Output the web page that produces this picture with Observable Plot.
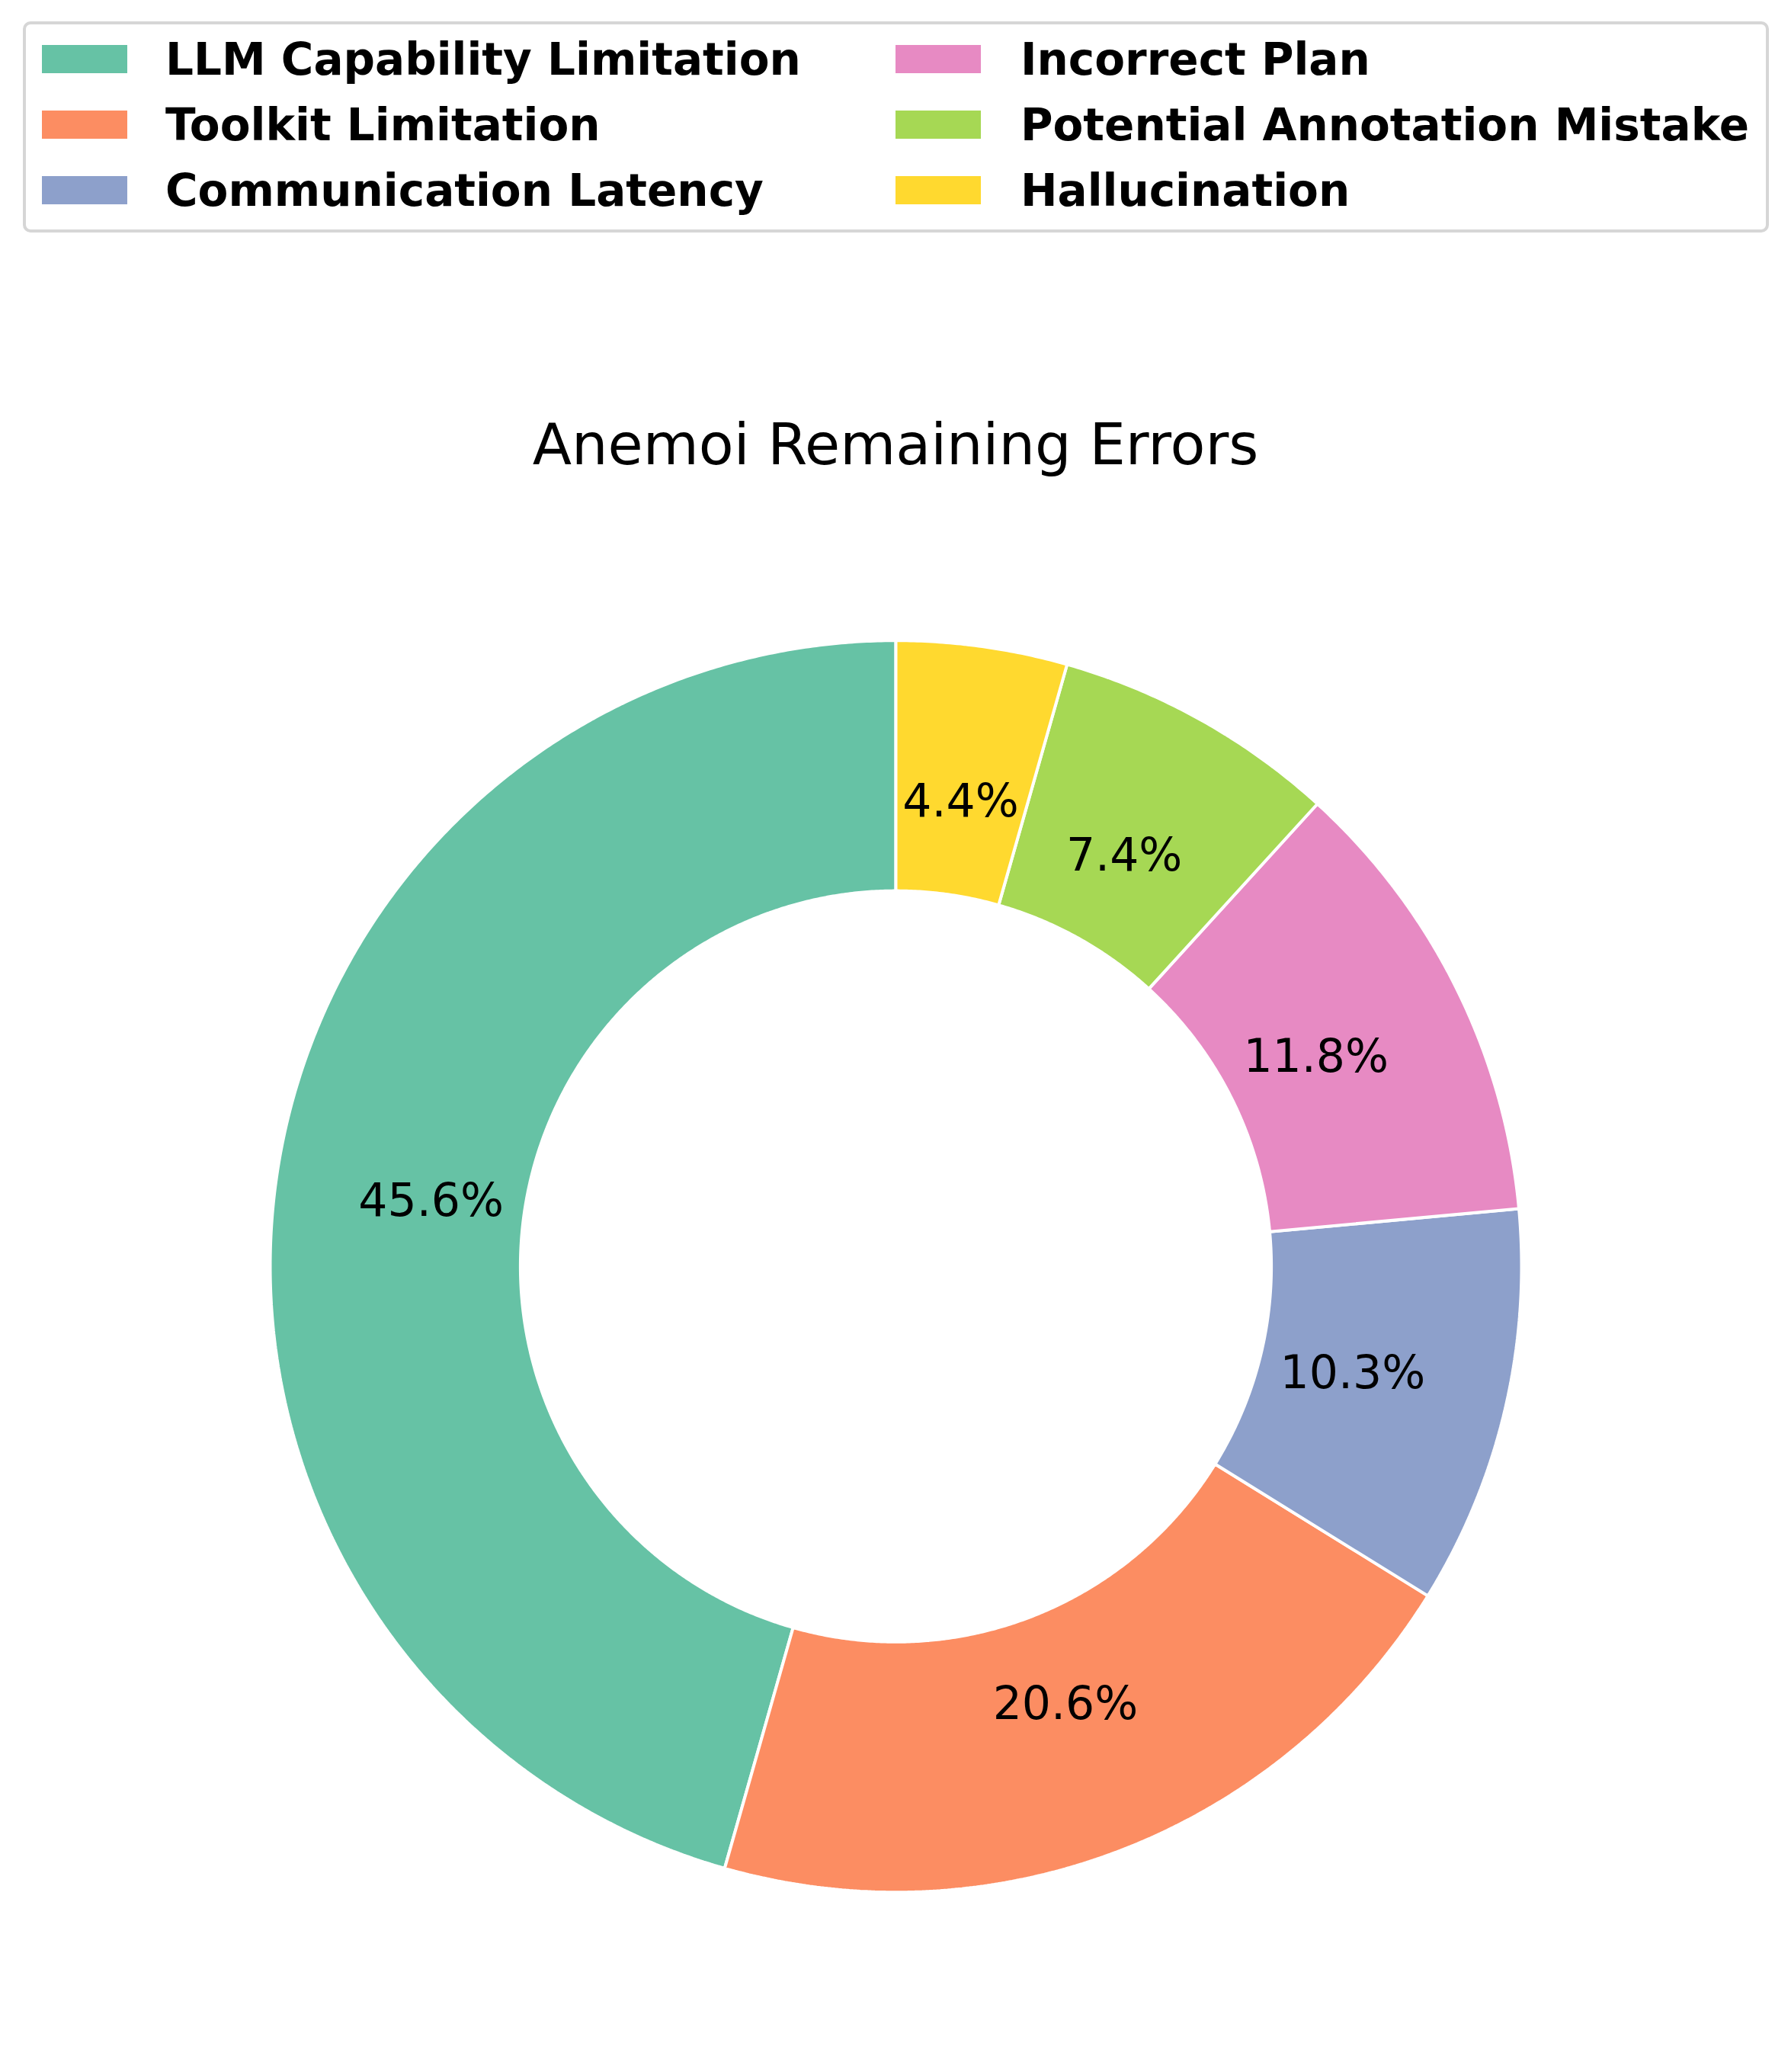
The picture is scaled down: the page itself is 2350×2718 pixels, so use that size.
<!DOCTYPE html>
<html>
<head>
<meta charset="utf-8">
<script src="https://cdn.jsdelivr.net/npm/d3@7"></script>
<script src="https://cdn.jsdelivr.net/npm/@observablehq/plot@0.6"></script>
<style>
  html, body { margin: 0; padding: 0; background: #fff; }
  #wrap { position: relative; width: 2350px; height: 2718px; font-family: "DejaVu Sans", sans-serif; overflow: hidden; }
  #legend { position: absolute; left: 30px; top: 28px; width: 2283px; height: 269px; border: 4px solid #d6d6d6; border-radius: 10px; box-sizing: content-box; }
  .sw { position: absolute; width: 112px; height: 37px; }
  .lt { position: absolute; font-weight: bold; font-size: 58px; line-height: 58px; white-space: nowrap; color: #000; }
  #title { position: absolute; left: 0; width: 2350px; top: 546px; text-align: center; font-size: 75px; line-height: 75px; color: #000; white-space: nowrap; }
  #chart { position: absolute; left: 0; top: 700px; }
</style>
</head>
<body>
<div id="wrap">
  <div id="legend"></div>
  <div id="title">Anemoi Remaining Errors</div>
  <div id="chart"></div>
</div>
<script>
// ---- data ----
const categories = ["LLM Capability Limitation", "Toolkit Limitation", "Communication Latency", "Incorrect Plan", "Potential Annotation Mistake", "Hallucination"];
const counts = [31, 14, 7, 8, 5, 3];
const colors = ["#66c2a5", "#fc8d62", "#8da0cb", "#e78ac3", "#a6d854", "#ffd92f"];
const titleText = "Anemoi Remaining Errors";

// ---- layout ----
const W = 2350, H = 2018;
const cx = 1175, cy = 960.7, R = 821, r = 0.6 * R, labelR = 0.75 * R;
const total = d3.sum(counts);

// slices (matplotlib style: startangle 90, counter-clockwise)
let acc = 0;
const slices = categories.map((cat, i) => {
  const a0 = 90 + acc / total * 360;
  acc += counts[i];
  const a1 = 90 + acc / total * 360;
  return {cat, value: counts[i], a0, a1, pct: (counts[i] / total * 100).toFixed(1) + "%"};
});

const rad = a => a * Math.PI / 180;
const pts = [];
for (const s of slices) {
  const n = Math.max(4, Math.ceil((s.a1 - s.a0) * 3));
  const ring = [];
  for (let k = 0; k <= n; k++) {
    const a = rad(s.a0 + (s.a1 - s.a0) * k / n);
    ring.push({cat: s.cat, x: cx + R * Math.cos(a), y: cy - R * Math.sin(a)});
  }
  for (let k = n; k >= 0; k--) {
    const a = rad(s.a0 + (s.a1 - s.a0) * k / n);
    ring.push({cat: s.cat, x: cx + r * Math.cos(a), y: cy - r * Math.sin(a)});
  }
  ring.push({...ring[0]});
  pts.push(...ring);
}

const chart = Plot.plot({
  width: W,
  height: H,
  margin: 0,
  x: {type: "identity", axis: null},
  y: {type: "identity", axis: null},
  color: {domain: categories, range: colors},
  style: {background: "#fff", fontFamily: "DejaVu Sans, sans-serif"},
  marks: [
    Plot.line(pts, {x: "x", y: "y", z: "cat", fill: "cat", stroke: "#fff", strokeWidth: 4, strokeLinejoin: "miter", curve: "linear"}),
    Plot.text(slices, {
      x: d => cx + labelR * Math.cos(rad((d.a0 + d.a1) / 2)),
      y: d => cy - labelR * Math.sin(rad((d.a0 + d.a1) / 2)),
      text: "pct",
      fontSize: 60,
      fill: "#000",
      textAnchor: "middle",
      lineAnchor: "middle"
    })
  ]
});
document.getElementById("chart").appendChild(chart);

// ---- legend (two columns, three rows) ----
const wrap = document.getElementById("wrap");
categories.forEach((cat, i) => {
  const col = Math.floor(i / 3), row = i % 3;
  const ymid = 77.5 + row * 86;
  const sx = col === 0 ? 55 : 1175;
  const tx = col === 0 ? 217 : 1339;
  const sw = document.createElement("div");
  sw.className = "sw";
  sw.style.left = sx + "px";
  sw.style.top = (ymid - 18.5) + "px";
  sw.style.background = colors[i];
  wrap.appendChild(sw);
  const t = document.createElement("div");
  t.className = "lt";
  t.style.left = tx + "px";
  t.style.top = (ymid + 20.5 - 49) + "px";
  t.textContent = cat;
  wrap.appendChild(t);
});
document.getElementById("title").textContent = titleText;
</script>
</body>
</html>
